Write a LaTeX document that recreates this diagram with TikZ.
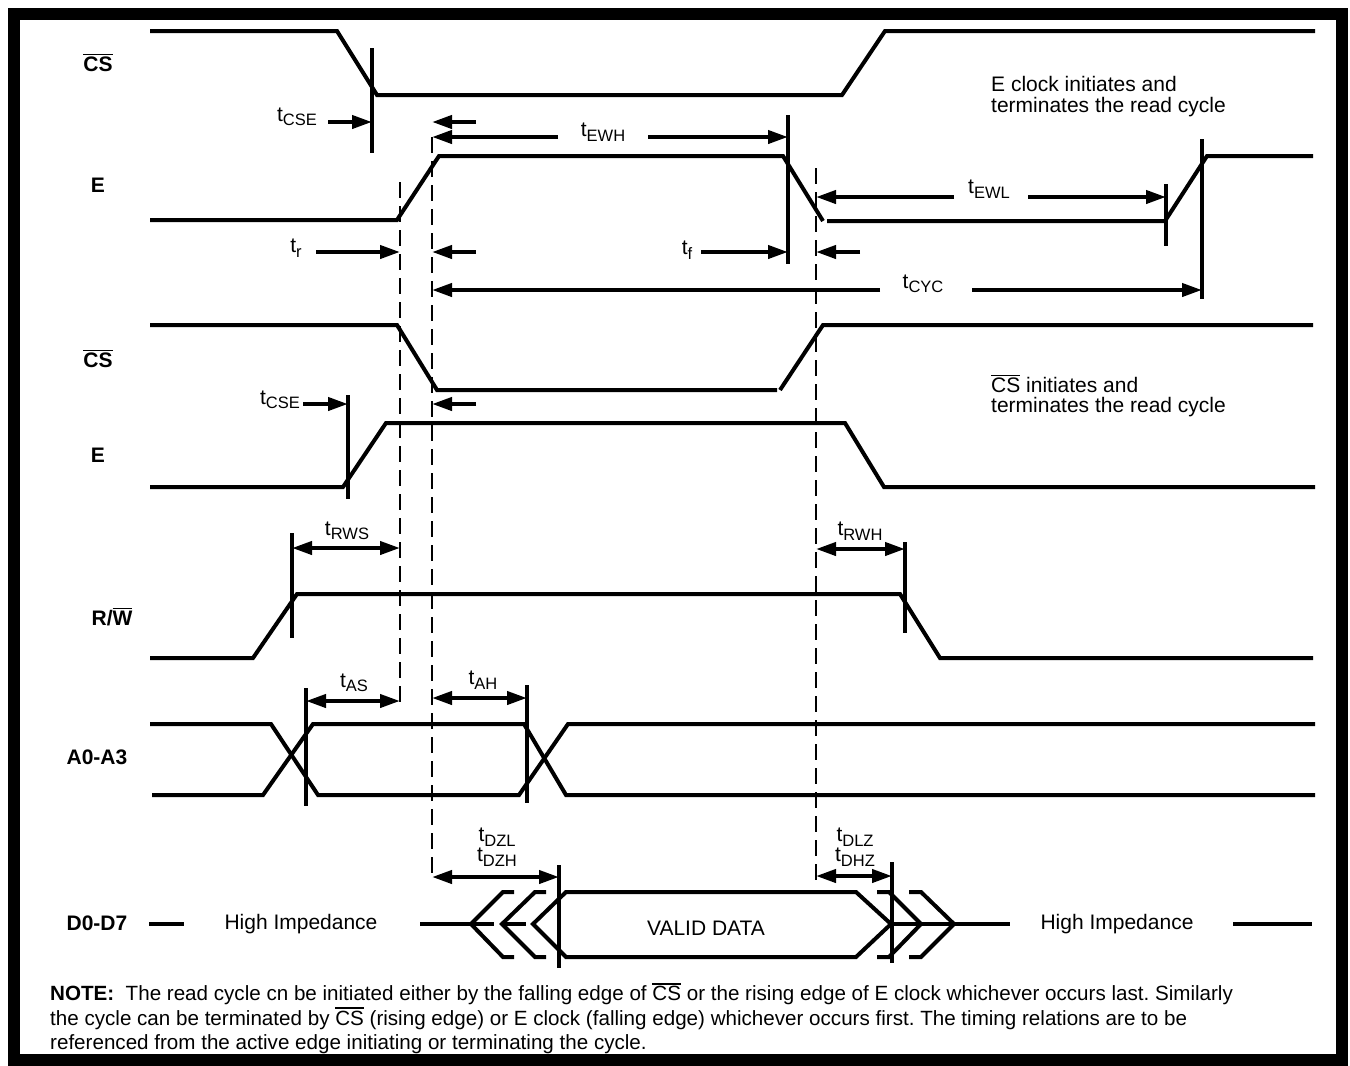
\documentclass[tikz,border=0pt]{standalone}
\usepackage{fontspec}
\setmainfont{Liberation Sans}
\usetikzlibrary{arrows.meta}
\frenchspacing

\newcommand{\ovl}[1]{\leavevmode\vbox{\hrule height 1.6pt\kern 1.6pt\hbox{#1}}}
\newcommand{\tsub}[1]{t\raisebox{-4.5pt}{\fontsize{16.5}{17}\selectfont #1}}

\tikzset{
	sig/.style={line width=4pt},
	edgebar/.style={line width=4pt},
	guide/.style={line width=1.6pt,dash pattern=on 16pt off 8pt},
	tarr/.style={line width=4pt,-{Triangle[length=20pt,width=13pt]}},
	tboth/.style={line width=4pt,{Triangle[length=20pt,width=13pt]}-{Triangle[length=20pt,width=13pt]}},
	lbl/.style={inner sep=0pt,font=\fontsize{21}{22}\selectfont},
	notetext/.style={inner sep=0pt,font=\fontsize{20.6}{22}\selectfont},
	signame/.style={inner sep=0pt,font=\bfseries\fontsize{21}{22}\selectfont},
}

\begin{document}
\begin{tikzpicture}[x=1pt,y=-1pt]
			          %\draw[help lines] (0,0) grid[step=50] (1350,1066);
			          \useasboundingbox (0,0) rectangle (1350,1066);
			          \draw[line width=12.5pt] (14,14) rectangle (1342,1060);

			          % signal names
			          \node[signame,anchor=base] (nCS1) at (98,71.5) {\ovl{CS}};
			          \node[signame,anchor=base] (nE1) at (98,192.5) {E};
			          \node[signame,anchor=base] (nCS2) at (98,367.5) {\ovl{CS}};
			          \node[signame,anchor=base] (nE2) at (98,462.5) {E};
			          \node[signame,anchor=base] (nRW) at (112,625.5) {R/\ovl{W}};
			          \node[signame,anchor=base] (nA) at (97,764.5) {A0-A3};
			          \node[signame,anchor=base] (nD) at (97,930.5) {D0-D7};

			          % dashed guides
			          \draw[guide] (400,182) -- (400,705);
			          \draw[guide] (432,137) -- (432,880);
			          \draw[guide] (816,168) -- (816,883);

			          % E clock starts and ends the cycle
			          \draw[sig] (150,31) -- (337,31) -- (377,95) -- (842,95) -- (885,31) -- (1315,31);
			          \draw[sig] (150,220) -- (397,220) -- (439,156) -- (783,156) -- (823,221);
			          \draw[sig] (827,221) -- (1165,221) -- (1207,156) -- (1313,156);
			          \draw[edgebar] (372,48) -- (372,153);
			          \draw[edgebar] (788,115) -- (788,264);
			          \draw[edgebar] (1166,184) -- (1166,246);
			          \draw[edgebar] (1202,139) -- (1202,299);
			          \node[lbl,anchor=base west] (txE1) at (991,91.5) {E clock initiates and};
			          \node[lbl,anchor=base west] (txE2) at (991,112.5) {terminates the read cycle};

			          \node[lbl] (tCSE) at (297,117) {\tsub{CSE}};
			          \draw[tarr] (328,122) -- (372,122);
			          \draw[tarr] (476,122) -- (432,122);
			          \node[lbl] (tEWH) at (603,132) {\tsub{EWH}};
			          \draw[tarr] (558,137) -- (432,137);
			          \draw[tarr] (648,137) -- (788,137);
			          \node[lbl] (tEWL) at (989,189) {\tsub{EWL}};
			          \draw[tarr] (954,197) -- (816,197);
			          \draw[tarr] (1028,197) -- (1166,197);
			          \node[lbl] (tr) at (296,248) {\tsub{r}};
			          \draw[tarr] (316,252) -- (400,252);
			          \draw[tarr] (476,252) -- (432,252);
			          \node[lbl] (tf) at (687,250) {\tsub{f}};
			          \draw[tarr] (701,252) -- (788,252);
			          \draw[tarr] (860,252) -- (816,252);
			          \node[lbl] (tCYC) at (923,284) {\tsub{CYC}};
			          \draw[tarr] (880,290) -- (432,290);
			          \draw[tarr] (972,290) -- (1202,290);

			          % CS starts and ends the cycle
			          \draw[sig] (150,325) -- (397,325) -- (437,390) -- (777,390);
			          \draw[sig] (780,390) -- (823,325) -- (1313,325);
			          \draw[tarr] (476,404) -- (432,404);
			          \node[lbl,anchor=base west] (txC1) at (991,392.5) {\ovl{CS} initiates and};
			          \node[lbl,anchor=base west] (txC2) at (991,412.5) {terminates the read cycle};
			          \node[lbl] (tCSE2) at (280,400) {\tsub{CSE}};
			          \draw[tarr] (303,404) -- (348,404);
			          \draw[edgebar] (348,395) -- (348,499);
			          \draw[sig] (150,487) -- (343,487) -- (386,423) -- (845,423) -- (884,487) -- (1315,487);

			          % R/W
			          \draw[sig] (150,658) -- (253,658) -- (297,594) -- (900,594) -- (940,658) -- (1313,658);
			          \draw[edgebar] (292,533) -- (292,638);
			          \draw[tboth] (292,548) -- (400,548);
			          \node[lbl] (tRWS) at (347,531) {\tsub{RWS}};
			          \draw[edgebar] (905,542) -- (905,633);
			          \draw[tboth] (816,549) -- (905,549);
			          \node[lbl] (tRWH) at (860,531) {\tsub{RWH}};

			          % address
			          \draw[sig] (150,724) -- (271,724) -- (318,795) -- (519,795) -- (568,724) -- (1315,724);
			          \draw[sig] (152,795) -- (263,795) -- (313,724) -- (524,724) -- (566,795) -- (1315,795);
			          \draw[edgebar] (306,688) -- (306,806);
			          \draw[tboth] (306,701) -- (400,701);
			          \node[lbl] (tAS) at (354,683) {\tsub{AS}};
			          \draw[edgebar] (527,685) -- (527,803);
			          \draw[tboth] (432,698) -- (527,698);
			          \node[lbl] (tAH) at (483,680) {\tsub{AH}};

			          % data
			          \draw[sig] (149,924) -- (184,924);
			          \node[lbl,anchor=base] (hiz1) at (301,929.5) {High Impedance};
			          \draw[sig] (420,924) -- (494,924) (501,924) -- (526,924);
			          \draw[sig] (514,892) -- (503,892) -- (471,924) -- (503,957) -- (514,957);
			          \draw[sig] (546,892) -- (535,892) -- (502,924) -- (535,957) -- (546,957);
			          \draw[sig] (566,892) -- (856,892) -- (891,924) -- (856,957) -- (566,957) -- (533,924) -- cycle;
			          \draw[sig] (877,892) -- (889,892) -- (921,924) -- (889,957) -- (877,957);
			          \draw[sig] (909,892) -- (921,892) -- (954,924) -- (921,957) -- (909,957);
			          \draw[sig] (891,924) -- (1010,924);
			          \node[lbl,anchor=base] (valid) at (706,935.5) {VALID DATA};
			          \node[lbl,anchor=base] (hiz2) at (1117,929.5) {High Impedance};
			          \draw[sig] (1233,924) -- (1312,924);
			          \draw[edgebar] (559,865) -- (559,968);
			          \draw[tboth] (432,877) -- (559,877);
			          \node[lbl] (tDZL) at (497,837) {\tsub{DZL}};
			          \node[lbl] (tDZH) at (497,857) {\tsub{DZH}};
			          \draw[edgebar] (892,862) -- (892,963);
			          \draw[tboth] (816,876) -- (892,876);
			          \node[lbl] (tDLZ) at (855,837) {\tsub{DLZ}};
			          \node[lbl] (tDHZ) at (855,857) {\tsub{DHZ}};

			          % note
			          \node[notetext,anchor=base west] (note1) at (50,1000.5) {\textbf{NOTE:}\ \ The read cycle cn be initiated either by the falling edge of \ovl{CS} or the rising edge of E clock whichever occurs last. Similarly};
			          \node[notetext,anchor=base west] (note2) at (50,1025) {the cycle can be terminated by \ovl{CS} (rising edge) or E clock (falling edge) whichever occurs first. The timing relations are to be};
			          \node[notetext,anchor=base west] (note3) at (50,1049.5) {referenced from the active edge initiating or terminating the cycle.};
\end{tikzpicture}
\end{document}
